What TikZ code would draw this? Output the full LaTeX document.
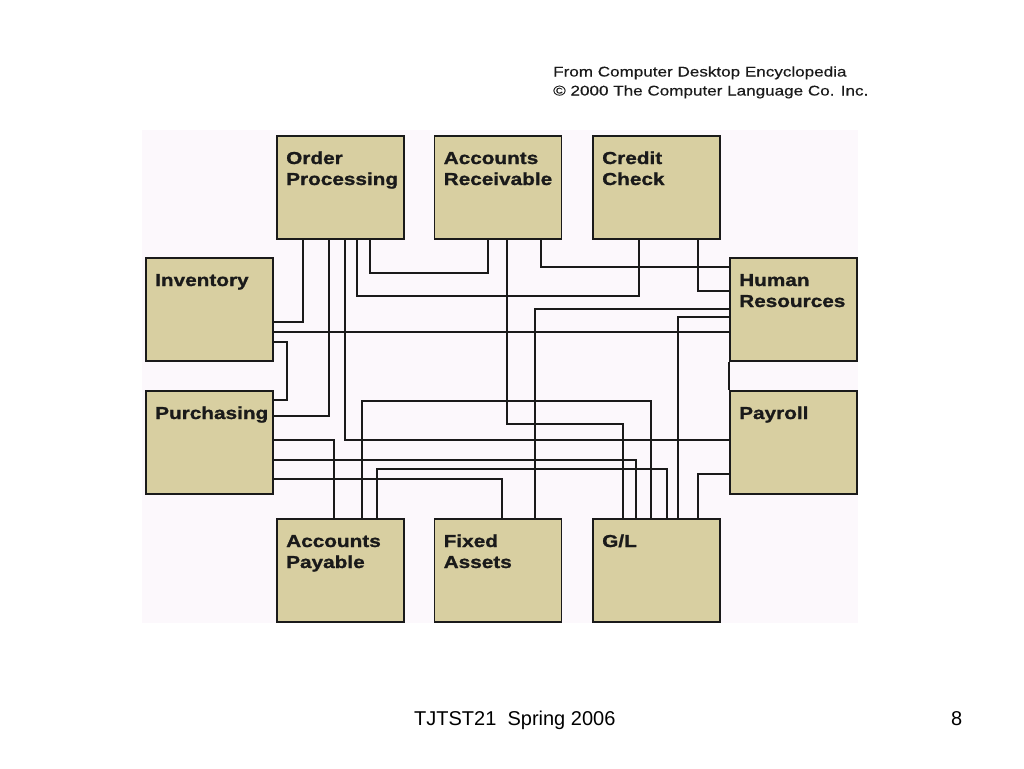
\documentclass[tikz,border=0pt]{standalone}
\usepackage{fontspec}
\setmainfont{Liberation Sans}
\newfontfamily\boxfont{Liberation Sans}[FakeStretch=1.2, BoldFeatures={FakeStretch=1.2, FakeBold=1.2}]
\newfontfamily\hdrfont{Liberation Sans}[FakeStretch=1.22, FakeBold=0.4]
\newcommand\twoline[3][21pt]{\vtop{\baselineskip=#1\hbox{#2}\hbox{#3}}}
\definecolor{boxfill}{HTML}{D8CFA1}
\definecolor{panel}{HTML}{FCF8FC}
\definecolor{ink}{HTML}{1A1A1A}
\tikzset{
  box/.style={draw=ink, line width=1.9pt, fill=boxfill, anchor=north west,
    minimum width=127pt, minimum height=103pt, inner sep=0pt},
  lbl/.style={anchor=base west, inner sep=0pt, text=ink,
    font=\boxfont\fontsize{17.3}{21}\selectfont\bfseries},
  wire/.style={draw=ink, line width=1.8pt},
  hdr/.style={anchor=base west, inner sep=0pt, text=ink,
    font=\hdrfont\fontsize{14}{19}\selectfont},
  foot/.style={anchor=base west, inner sep=0pt, text=black,
    font=\fontsize{20}{24}\selectfont}
}
\begin{document}
\begin{tikzpicture}[x=1pt,y=-1pt]
\fill[white] (0,0) rectangle (1024,768);
\useasboundingbox (0,0) rectangle (1024,768);
\fill[panel] (142,130) rectangle (858,623);

% boxes
\node[box] (op)  at (276,135)   {};
\node[box] (ar)  at (433.5,135) {};
\node[box] (cc)  at (592,135)   {};
\node[box] (inv) at (145,257)   {};
\node[box] (hr)  at (729,257)   {};
\node[box] (pur) at (145,390)   {};
\node[box] (pay) at (729,390)   {};
\node[box] (ap)  at (276,518)   {};
\node[box] (fa)  at (433.5,518) {};
\node[box] (gl)  at (592,518)   {};

% labels
\node[lbl] (opl)  at ([shift={(10,29)}]op.north west)  {\twoline{Order}{Processing}};
\node[lbl] (arl)  at ([shift={(10,29)}]ar.north west)  {\twoline{Accounts}{Receivable}};
\node[lbl] (ccl)  at ([shift={(10,29)}]cc.north west)  {\twoline{Credit}{Check}};
\node[lbl] (invl) at ([shift={(10,29)}]inv.north west) {Inventory};
\node[lbl] (hrl)  at ([shift={(10,29)}]hr.north west)  {\twoline{Human}{Resources}};
\node[lbl] (purl) at ([shift={(10,29)}]pur.north west) {Purchasing};
\node[lbl] (payl) at ([shift={(10,29)}]pay.north west) {Payroll};
\node[lbl] (apl)  at ([shift={(10,29)}]ap.north west)  {\twoline{Accounts}{Payable}};
\node[lbl] (fal)  at ([shift={(10,29)}]fa.north west)  {\twoline{Fixed}{Assets}};
\node[lbl] (gll)  at ([shift={(10,29)}]gl.north west)  {G/L};

% connectors
\draw[wire] (inv.east |- 0,322) -| (303,0 |- op.south);
\draw[wire] (370,0 |- op.south) -- (370,273) -| (488,0 |- ar.south);
\draw[wire] (357,0 |- op.south) -- (357,296) -| (639,0 |- cc.south);
\draw[wire] (329,0 |- op.south) |- (pur.east |- 0,416);
\draw[wire] (345,0 |- op.south) |- (pay.west |- 0,440);
\draw[wire] (inv.east |- 0,332) -- (hr.west |- 0,332);
\draw[wire] (inv.east |- 0,342) -- (287,342) |- (pur.east |- 0,400);
\draw[wire] (541,0 |- ar.south) |- (hr.west |- 0,267);
\draw[wire] (507,0 |- ar.south) -- (507,424) -| (623,0 |- gl.north);
\draw[wire] (698,0 |- cc.south) |- (hr.west |- 0,291);
\draw[wire] (hr.west |- 0,309) -| (535,0 |- fa.north);
\draw[wire] (hr.west |- 0,317) -| (678,0 |- gl.north);
\draw[wire] (hr.south west) -- (pay.north west);
\draw[wire] (pay.west |- 0,474) -| (698,0 |- gl.north);
\draw[wire] (pur.east |- 0,440) -| (334,0 |- ap.north);
\draw[wire] (pur.east |- 0,460) -| (636,0 |- gl.north);
\draw[wire] (pur.east |- 0,479) -| (502,0 |- fa.north);
\draw[wire] (362,0 |- ap.north) -- (362,401) -| (651,0 |- gl.north);
\draw[wire] (377,0 |- ap.north) -- (377,469) -| (667,0 |- gl.north);

% header and footer
\node[hdr] (src) at (553,76.5) {\twoline[19pt]{From Computer Desktop Encyclopedia}{\textcopyright{} 2000 The Computer Language Co. Inc.}};
\node[foot] (ft) at (414,725) {TJTST21\ \ Spring 2006};
\node[foot] (pg) at (951,725) {8};
\end{tikzpicture}
\end{document}
